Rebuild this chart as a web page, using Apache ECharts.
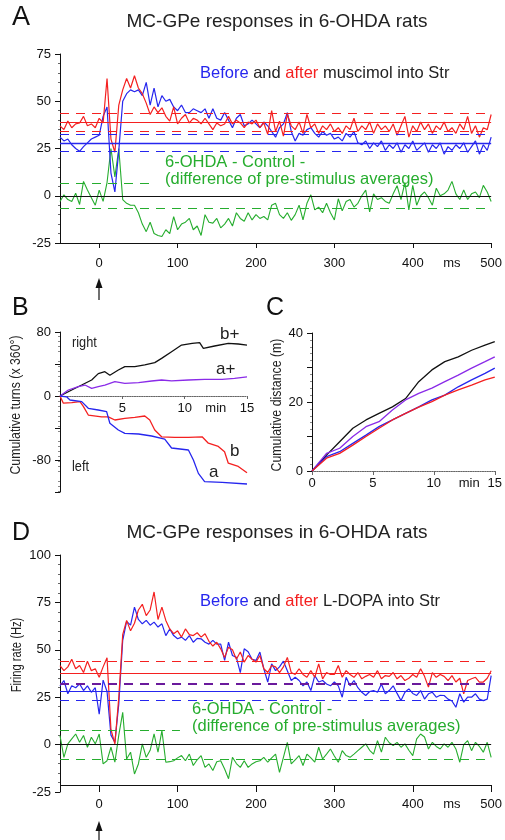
<!DOCTYPE html>
<html><head><meta charset="utf-8">
<script src="https://cdn.jsdelivr.net/npm/echarts@6/dist/echarts.min.js"></script>
<style>html,body{margin:0;padding:0;background:#fff}#c{width:505px;height:840px}</style>
</head><body><div id="c"></div>
<script>
// ---- time bins (ms) for panels A and D ----
const binsMs = [-50,-45,-40,-35,-30,-25,-20,-15,-10,-5,0,5,10,15,20,25,30,35,40,45,50,55,60,65,70,75,80,85,90,95,
100,105,110,115,120,125,130,135,140,145,150,155,160,165,170,175,180,185,190,195,
200,205,210,215,220,225,230,235,240,245,250,255,260,265,270,275,280,285,290,295,
300,305,310,315,320,325,330,335,340,345,350,355,360,365,370,375,380,385,390,395,
400,405,410,415,420,425,430,435,440,445,450,455,460,465,470,475,480,485,490,495,500];

// ---- Panel A (muscimol) ----
const aBefore = [31,29,30,27,25,23.5,26,28,30,31,32,42,47,12,2,24,50,54,56,55,56,53,60,48,57,47,53,50,51,47,
45,48,44,44,46,45,44,46,41,46,41,40,44,40,36,41,43,37,38,40,
38,36,39,37,34,31,36,38,44,34,29,33,32,35,36,33,31,34,32,33,
30,31,29,33,31,34,28,27,29,25,28,26,29,24,27,25,28,23,27,25,
29,24,26,28,23,27,25,28,22,26,24,27,25,28,23,26,29,22,27,24,31];
const aAfter = [37,35,39.5,36,38,38.5,42,37,38,36,41,38.5,62,30,23,48,56,62,57,63.5,57,54,49,43,47,44,46.5,42,39.5,47,
38,41,43,38.5,41,40,38,41,38,35,38.5,37,38,42,38,40,38.5,36,39,38,
40,36,38.5,32.5,45,34,39.5,31.5,43,37,35,39,33,43,36,38,33,37,35,38,
34,36,33,37,35,41,34,37,35,39,33,38,35,37,34,38,32,37,42,31,
37,34,39,35,38,33,37,35,39,34,36,33,38,35,42,33,37,31,36,35,43];
const aDiff = [-3,0.5,-2,-3,1.3,-4.6,7.6,3,-1,-5,3,-3,7,25,10,25,-2,-4,-5,-5,-9,-15,-19,-14,-20,-21,-21.6,-18,-20,-11,
-18,-15,-14,-12,-18,-16,-21,-10,-14,-14.5,-12,-17,-15,-12,-16,-9,-12,-13.5,-9,-12.8,
-10,-12,-11,-12.8,-5,-4,-10,-12,-9,-13,-10,-5,-12.8,-4,0.5,-7.5,-6,-9,-4,-9,
-12.8,-1.6,-8,-3,-2,-6,-4,0,3,-8.6,1,-2,-1,-3,-4,1,5.3,-2,7,-7.5,
5.5,-5,0,2,-1,-5,4,0,1,3,7.6,1,-2,3,-2,1,2,-1,5.5,2,-3];
const aRef = {afterMean:38.8, afterHi:43.8, afterLo:34.0, beforeHi:32.4, beforeMean:27.8, beforeLo:23.7, diffHi:6.7, diffLo:-6.8};

// ---- Panel D (L-DOPA) ----
const dBefore = [31,33.8,26.8,31,30,32,28.5,31,27.6,30,16,34,28,5,1.2,21.5,55,65,63,72.5,66,63.7,65.5,63,64.6,62,63.7,57.5,61,57.5,
55.8,56.7,55,57.5,54,56,55.8,54,53,55,53,53,44.4,54,47,46,38,50.5,49,45,
44.4,48.8,40,33,42.6,39,41,44,39,33.8,35.5,33.8,31,33,28.5,36.4,33,33.8,32,31,
33,31,25,35.5,31,33.8,30,27.6,25.9,28,28.5,27.6,32,26.8,28.5,31,27,23.2,27.6,29.4,
27,25.9,28.5,24,26.8,27.6,25,26,25.9,24,23,19.7,26.8,22.4,25,25,26.8,24,23.2,24,36.4];
const dAfter = [41.7,39,41,45,40,41.7,38,44,39,40,35.5,41,45.8,8,0.4,25,58,65.5,60,64,71,74,68,71,80.5,66,72.5,65.5,61,58.5,
60,56.7,61,58,57.5,59,56.7,58.5,54.5,52,54,50.5,46,51.4,50,45,48.8,43.5,47,45,
43.5,47,40,38,41.7,41,38,41,46,38,37,40,37,35.5,39,35.5,42.6,34.7,38,37,
37,41.7,35.5,39,37,35.5,38,34.7,36,37,35.5,39,34.7,36.4,36,38,34.7,36.4,33.8,35,
37,35.5,40,36,30.3,38,35.5,37,36,33.8,36.4,33,35,26.8,33.8,34.7,35.5,33,33,35,39];
const dDiff = [4.8,-6.7,0.4,3,5.6,1.2,4.8,-1.4,3.9,0.4,5.6,-10.2,-8.5,-1.4,-9.3,5,17,-7.6,-4,-15.5,-10.2,0.4,-6.7,-3,5.6,-4,7.4,-9.3,-9,-8.5,
-7,-5.8,-8.5,-5,-11,-8,-5.8,-12,-10.2,-13.7,-9,-8.5,-12.9,-18,-6.7,-10,-12,-8.5,-12,-10.2,
-9,-8.5,-6.7,-9.3,-7,-5,-14.6,-6.7,1.2,-10.2,-8,-5.8,-11,-5,-7,-9.3,-1.4,-7.6,-5,-2.3,
-6,-9.3,-3.2,-5.8,-6.7,-5,-3.2,-1.4,0.4,-3,-5,2.1,-4,3.9,1,-0.5,1.2,-1.4,0.4,-3,
-5.8,3,5.6,4,-2.3,1.2,-1,-2.3,0.4,-1.4,1.2,-2.3,-9.3,0,2.1,-3.2,1.2,-1,-4,1.2,-6.7];
const dRef = {afterMean:37.7, afterHi:44.0, bothDash:32.1, beforeMean:28.2, beforeLo:23.6, diffHi:7.4, diffLo:-7.6, xAxisAt:-21.7};

// ---- Panel B: cumulative turns ----
const bPlusT = [0,0.94,1.74,2.54,3.07,3.6,4.0,4.68,5.2,6.0,6.8,7.6,8.15,8.95,9.75,10.6,11.2,11.5,12.4,13.5,14.3,15];
const bPlus  = [0,7.5,13.7,20,28,30.4,26,32.5,36.7,36.7,38.8,41.7,47,55.4,63.7,65.8,66.7,59.6,62.5,65.8,65,63.7];
const aPlusT = [0,0.67,1.47,2.0,2.54,3.07,3.6,4.4,5.2,6.3,7.35,8.15,8.95,10.3,11.6,13,14,15];
const aPlus  = [0,7.5,11.7,13.7,9.6,11.7,13.7,17.9,15.8,16.7,18.75,20,19,20,20.8,20.8,22,24];
const bMinusT = [0,0.27,0.94,1.6,1.87,2.27,3.34,3.87,4.4,5.2,6.0,6.8,7.2,7.6,8.15,9.2,10.3,11.4,11.9,12.7,13.2,13.5,14.3,15];
const bMinus  = [0,-9,-8.3,-7,-13,-23.8,-26,-26,-30,-28,-26.7,-25,-30,-42.5,-51,-51.7,-51.7,-51,-59,-63,-69.6,-84,-88,-96];
const aMinusT = [0,0.53,0.8,1.74,2.27,3.07,3.74,4.0,4.68,5.2,6.3,7.35,8.4,8.95,10.3,10.7,11.1,11.6,13,15];
const aMinus  = [0,-1,-5,-7,-15.4,-17.5,-19.6,-34,-42.5,-46.7,-47.5,-50,-54,-65,-67.5,-80,-96.7,-107,-108,-110];

// ---- Panel C: cumulative distance ----
const cT = [0,1.19,2.27,3.35,4.43,5.5,6.6,7.68,8.76,9.84,10.9,12,13.1,14.2,15];
const cBlack  = [0,4.6,8.5,12.4,14.8,16.7,18.6,21,25.9,29.3,31.7,33.1,35,36.5,37.5];
const cPurple = [0,5.1,6.6,10,12.85,14.3,17.7,20.6,22.5,24,25.9,27.8,29.8,31.7,33.1];
const cBlue   = [0,4.15,5.6,8,10.4,12.85,14.8,16.7,18.6,20.6,22,24.4,26.4,28.3,29.8];
const cRed    = [0,3.7,5.1,7.5,10,12.4,14.8,16.7,18.5,20.1,22,23.5,24.9,26.4,27.2];

// tick labels
const msTicks = [0,100,200,300,400,500];
const msLabels = [0,100,200,300,400,450,500];
const bYTicks = [80,40,0,-40,-80,-120];
const bYLabels = [80,0,-80];
const bXLabels = [5,10,12.5,15];
const cXLabels = [0,5,10,12.9,15];

const BLUE='#2626ee', RED='#f42020', GREEN='#26ad2e', PURPLE='#8a2be8', BLACK='#111';
const NARROW='"Liberation Sans",Arial,sans-serif';
const SANS='"Liberation Sans",Arial,Helvetica,sans-serif';

function zip(xs, ys){ return xs.map((x,i)=>[x, ys[i]]); }
const lab = {fontFamily:NARROW, fontSize:13, color:'#111'};

function hl(v, color, type, w, x0, x1){
  if (x0 !== undefined) return [{coord:[x0,v], lineStyle:{color, type, width:w||1}},{coord:[x1,v]}];
  return {yAxis:v, lineStyle:{color, type, width:w||1}};
}
function ml(items){ return {silent:true, symbol:['none','none'], label:{show:false}, animation:false, data:items}; }
function ln(xi, data, color, w, extra){
  return Object.assign({type:'line', xAxisIndex:xi, yAxisIndex:xi, data, symbol:'none', showSymbol:false,
    lineStyle:{color, width:w||1.1}, itemStyle:{color}, animation:false, z:3}, extra||{});
}

const msAxis = (gi, margin, tickInside) => ({
  type:'value', gridIndex:gi, min:-50, max:500,
  axisLine:{show: !tickInside, onZero:false, lineStyle:{color:'#111', width:1}},
  axisTick:{show:true, customValues:msTicks, length: tickInside?7:5, inside: !!tickInside, lineStyle:{color:'#111'}},
  axisLabel:Object.assign({}, lab, {customValues:msLabels, margin, formatter:v=> v===450?'ms':String(v)}),
  splitLine:{show:false}
});
const rateAxis = (gi, min, max) => ({
  type:'value', gridIndex:gi, min, max, interval:25,
  axisLine:{show:true, onZero:false, lineStyle:{color:'#111'}},
  axisTick:{show:true, length:5, lineStyle:{color:'#111'}},
  minorTick:{show:true, splitNumber:5, length:2, lineStyle:{color:'#666'}},
  axisLabel:Object.assign({}, lab, {margin:9}),
  splitLine:{show:false}
});

const option = {
  backgroundColor:'#fff',
  animation:false,
  grid:[
    {left:60, top:54, width:434, height:189},
    {left:60, top:332, width:187, height:160},
    {left:312, top:333, width:185, height:138},
    {left:60, top:555, width:434, height:237}
  ],
  xAxis:[
    msAxis(0, 14, false),
    {type:'value', gridIndex:1, min:0, max:15, position:'bottom', offset:-96,
      axisLine:{show:true, onZero:false, lineStyle:{color:'#666', type:'dotted', width:1.2}},
      axisTick:{show:true, customValues:[5,10,15], length:3, lineStyle:{color:'#666'}},
      axisLabel:Object.assign({}, lab, {customValues:bXLabels, margin:6, formatter:v=> v===12.5?'min':String(v)}),
      splitLine:{show:false}},
    {type:'value', gridIndex:2, min:0, max:15,
      axisLine:{show:true, onZero:false, lineStyle:{color:'#666', type:'dotted', width:1.2}},
      axisTick:{show:true, customValues:[0,5,10,15], length:4, lineStyle:{color:'#666'}},
      axisLabel:Object.assign({}, lab, {customValues:cXLabels, margin:6, formatter:v=> v===12.9?'min':String(v)}),
      splitLine:{show:false}},
    msAxis(3, 6, true)
  ],
  yAxis:[
    rateAxis(0, -25, 75),
    {type:'value', gridIndex:1, min:-120, max:80,
      axisLine:{show:true, onZero:false, lineStyle:{color:'#111'}},
      axisTick:{show:true, customValues:bYTicks, length:5, lineStyle:{color:'#111'}},
      minorTick:{show:true, splitNumber:8, length:2, lineStyle:{color:'#888'}},
      axisLabel:Object.assign({}, lab, {customValues:bYLabels, margin:9}),
      splitLine:{show:false}},
    {type:'value', gridIndex:2, min:0, max:40, interval:10,
      axisLine:{show:true, onZero:false, lineStyle:{color:'#111'}},
      axisTick:{show:true, length:5, lineStyle:{color:'#111'}},
      minorTick:{show:true, splitNumber:5, length:2, lineStyle:{color:'#888'}},
      axisLabel:Object.assign({}, lab, {margin:9, formatter:v=> (v%20===0)?String(v):''}),
      splitLine:{show:false}},
    rateAxis(3, -25, 100)
  ],
  series:[
    // Panel A
    ln(0, zip(binsMs, aDiff), GREEN, 1.1, {markLine: ml([
      hl(0, '#111', 'solid', 1),
      hl(aRef.diffHi, GREEN, [9,7], 1, -50, 70),
      hl(aRef.diffLo, GREEN, [9,7], 1)
    ])}),
    ln(0, zip(binsMs, aBefore), BLUE, 1.2, {markLine: ml([
      hl(aRef.beforeMean, BLUE, 'solid', 1.4),
      hl(aRef.beforeHi, BLUE, [9,7], 1.2),
      hl(aRef.beforeLo, BLUE, [9,7], 1.2)
    ])}),
    ln(0, zip(binsMs, aAfter), RED, 1.2, {markLine: ml([
      hl(aRef.afterMean, RED, 'solid', 1),
      hl(aRef.afterHi, RED, [9,7], 1.2),
      hl(aRef.afterLo, RED, [9,7], 1.2)
    ])}),
    // Panel B
    ln(1, zip(bPlusT, bPlus), BLACK, 1.3),
    ln(1, zip(aPlusT, aPlus), PURPLE, 1.3),
    ln(1, zip(bMinusT, bMinus), RED, 1.3),
    ln(1, zip(aMinusT, aMinus), BLUE, 1.3),
    // Panel C
    ln(2, zip(cT, cBlack), BLACK, 1.3),
    ln(2, zip(cT, cPurple), PURPLE, 1.3),
    ln(2, zip(cT, cBlue), BLUE, 1.3),
    ln(2, zip(cT, cRed), RED, 1.3),
    // Panel D
    ln(3, zip(binsMs, dDiff), GREEN, 1.1, {markLine: ml([
      hl(0, '#111', 'solid', 1),
      hl(dRef.xAxisAt, '#111', 'solid', 1),
      hl(dRef.diffHi, GREEN, [9,7], 1, -50, 103),
      hl(dRef.diffLo, GREEN, [9,7], 1)
    ])}),
    ln(3, zip(binsMs, dBefore), BLUE, 1.2, {markLine: ml([
      hl(dRef.beforeMean, BLUE, 'solid', 1),
      hl(dRef.beforeLo, BLUE, [9,7], 1.2)
    ])}),
    ln(3, zip(binsMs, dAfter), RED, 1.2, {markLine: ml([
      hl(dRef.afterMean, RED, 'solid', 1),
      hl(dRef.afterHi, RED, [9,7], 1),
      hl(dRef.bothDash, '#6a1a9c', [9,7], 2)
    ])})
  ],
  graphic:[
    {type:'text', x:12, y:18, style:{text:'A', font:'27px '+SANS, fill:'#111', verticalAlign:'middle'}},
    {type:'text', x:277, y:22, style:{text:'MC-GPe responses in 6-OHDA rats', font:'19px '+SANS, fill:'#222', align:'center', verticalAlign:'middle'}},
    {type:'text', x:200, y:73, style:{text:'{b|Before} and {r|after} muscimol into Str', font:'16.5px '+SANS, fill:'#222', verticalAlign:'middle',
      rich:{b:{fill:BLUE, font:'16.5px '+SANS}, r:{fill:RED, font:'16.5px '+SANS}}}},
    {type:'text', x:165, y:162, style:{text:'6-OHDA - Control -', font:'16.5px '+SANS, fill:GREEN, verticalAlign:'middle'}},
    {type:'text', x:165, y:179, style:{text:'(difference of pre-stimulus averages)', font:'16.5px '+SANS, fill:GREEN, verticalAlign:'middle'}},
    // arrow A
    {type:'line', shape:{x1:99, y1:286, x2:99, y2:300}, style:{stroke:'#111', lineWidth:1.2}},
    {type:'polygon', shape:{points:[[99,278],[95.5,288],[102.5,288]]}, style:{fill:'#111'}},
    // B
    {type:'text', x:12, y:308, style:{text:'B', font:'25px '+SANS, fill:'#111', verticalAlign:'middle'}},
    {type:'text', x:16, y:405, rotation:Math.PI/2, scaleX:0.88, style:{text:'Cumulative turns (x 360°)', font:'14px '+SANS, fill:'#222', align:'center', verticalAlign:'middle'}},
    {type:'text', x:72, y:343, scaleX:0.85, style:{text:'right', font:'15px '+SANS, fill:'#222', verticalAlign:'middle'}},
    {type:'text', x:72, y:467, scaleX:0.85, style:{text:'left', font:'15px '+SANS, fill:'#222', verticalAlign:'middle'}},
    {type:'text', x:220, y:334, style:{text:'b+', font:'17px '+SANS, fill:'#222', verticalAlign:'middle'}},
    {type:'text', x:216, y:369, style:{text:'a+', font:'17px '+SANS, fill:'#222', verticalAlign:'middle'}},
    {type:'text', x:230, y:451, style:{text:'b', font:'17px '+SANS, fill:'#222', verticalAlign:'middle'}},
    {type:'text', x:209, y:472, style:{text:'a', font:'17px '+SANS, fill:'#222', verticalAlign:'middle'}},
    // C
    {type:'text', x:266, y:308, style:{text:'C', font:'25px '+SANS, fill:'#111', verticalAlign:'middle'}},
    {type:'text', x:277, y:405, rotation:Math.PI/2, scaleX:0.88, style:{text:'Cumulative distance (m)', font:'14px '+SANS, fill:'#222', align:'center', verticalAlign:'middle'}},
    // D
    {type:'text', x:12, y:533, style:{text:'D', font:'25px '+SANS, fill:'#111', verticalAlign:'middle'}},
    {type:'text', x:277, y:533, style:{text:'MC-GPe responses in 6-OHDA rats', font:'19px '+SANS, fill:'#222', align:'center', verticalAlign:'middle'}},
    {type:'text', x:17, y:655, rotation:Math.PI/2, scaleX:0.8, style:{text:'Firing rate (Hz)', font:'14px '+SANS, fill:'#222', align:'center', verticalAlign:'middle'}},
    {type:'text', x:200, y:601, style:{text:'{b|Before} and {r|after} L-DOPA into Str', font:'16.5px '+SANS, fill:'#222', verticalAlign:'middle',
      rich:{b:{fill:BLUE, font:'16.5px '+SANS}, r:{fill:RED, font:'16.5px '+SANS}}}},
    {type:'text', x:192, y:709, style:{text:'6-OHDA - Control -', font:'16.5px '+SANS, fill:GREEN, verticalAlign:'middle'}},
    {type:'text', x:192, y:726, style:{text:'(difference of pre-stimulus averages)', font:'16.5px '+SANS, fill:GREEN, verticalAlign:'middle'}},
    // arrow D
    {type:'line', shape:{x1:99, y1:828, x2:99, y2:840}, style:{stroke:'#111', lineWidth:1.2}},
    {type:'polygon', shape:{points:[[99,821],[95.5,831],[102.5,831]]}, style:{fill:'#111'}}
  ]
};
const chart = echarts.init(document.getElementById('c'), null, {renderer:'canvas'});
chart.setOption(option);
</script></body></html>
